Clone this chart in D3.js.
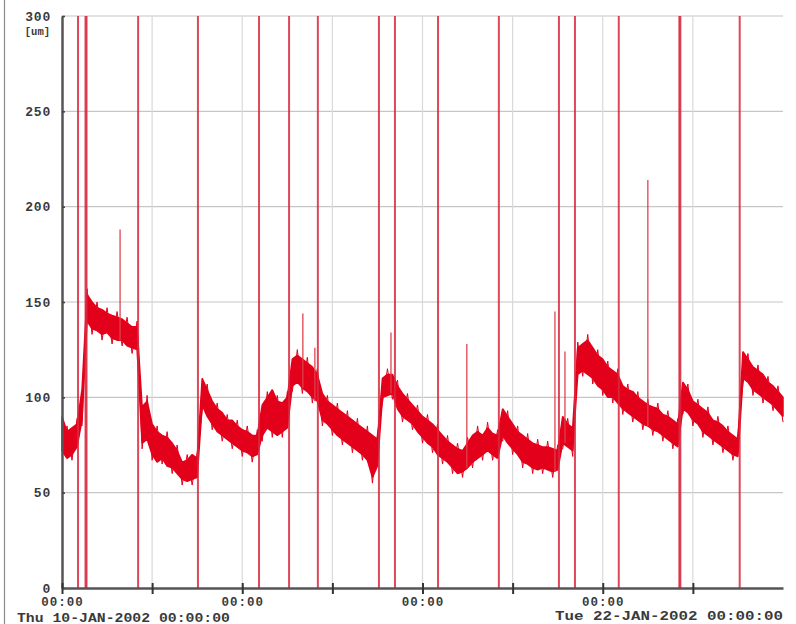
<!DOCTYPE html>
<html lang="en">
  <head>
    <meta charset="UTF-8" />
    <title>trace</title>
    <script src="https://cdn.jsdelivr.net/npm/d3@7/dist/d3.min.js"></script>
    <style>
      body { margin: 0; background: #fff; }
    </style>
  </head>
  <body>
    <div id="wrapper"></div>
    <script>
      // start of record, samples every 2 hours
      const startDate = new Date(2002, 0, 10);
      const stepHours = 2;

      // band of the noisy trace (lower / upper edge), in um
      const traceLow = [
        72, 68, 70, 74, 88, 140, 136, 135, 133, 134, 131, 130, 130, 127, 126, 125,
        76, 78, 70, 66, 68, 64, 63, 60, 57, 56, 57, 58,
        96, 90, 86, 82, 80, 78, 76, 74, 72, 71, 69, 70,
        80, 84, 82, 80, 82, 84,
        106, 108, 105, 103, 100, 98,
        88, 86, 83, 80, 78, 76, 74, 72, 70, 67, 58, 64,
        100, 101, 102,
        94, 90, 88, 86, 82, 79, 76, 74, 70,
        68, 66, 63, 60, 61, 63, 66, 68, 70, 72, 70, 68,
        80, 76, 73, 70, 66, 65, 63, 62, 63, 62, 61, 62,
        76, 74, 72,
        112, 114, 112, 110, 106, 104, 100, 100, 97,
        94, 92, 90, 88, 86, 85, 83, 82, 80, 78, 76, 74,
        94, 92, 88, 86, 82, 80, 78, 76, 74, 72, 70, 69,
        110, 108, 104, 102, 100, 98, 96, 93, 90,
      ];
      const traceHigh = [
        90, 82, 84, 86, 104, 154, 150, 147, 146, 144, 143, 142, 141, 139, 137, 137,
        95, 98, 86, 82, 80, 79, 76, 72, 66, 67, 70, 68,
        110, 104, 98, 94, 92, 88, 88, 85, 83, 82, 80, 80,
        96, 100, 104, 98, 97, 100,
        120, 122, 120, 118, 116, 112,
        102, 98, 96, 94, 92, 90, 88, 86, 84, 82, 80, 78,
        110, 112, 112,
        106, 102, 99, 96, 93, 90, 88, 86, 83,
        80, 77, 75, 73, 72, 76, 80, 82, 80, 84, 81, 80,
        94, 90, 86, 82, 80, 78, 76, 75, 74, 74, 73, 72,
        90, 86, 84,
        126, 128, 130, 126, 122, 120, 116, 114, 112,
        106, 104, 103, 100, 98, 96, 95, 94, 91, 90, 88, 86,
        108, 104, 98, 96, 94, 92, 88, 87, 85, 82, 80, 78,
        124, 120, 116, 114, 112, 108, 106, 103, 100,
      ];

      // spikes that run off the whole scale (hours after start)
      const fullSpikeHours = [
        6.4, 9.4, 9.8, 30.4, 54.3, 78.7, 90.7, 102.2, 126.6, 133, 150.2,
        174.5, 198.5, 204.9, 222.4, 246.6, 247.0, 270.7,
      ];
      // shorter spikes and their tops
      const spikeHours = [23.2, 96.2, 101, 131.4, 161.7, 196.9, 200.9, 234];
      const spikePeaks = [188, 144, 126, 134, 128, 145, 124, 214];

      const yTicks = [0, 50, 100, 150, 200, 250, 300];
      const xTickHours = [0, 36, 72, 108, 144, 180, 216, 252];
      const endLabel = "Tue 22-JAN-2002 00:00:00";
      const startLabel = "Thu 10-JAN-2002 00:00:00";
      const unitLabel = "[um]";

      const width = 796;
      const height = 624;
      const mono = "'Liberation Mono', 'DejaVu Sans Mono', monospace";
      const red = "#e3001b";

      const hourDate = (h) => new Date(startDate.getTime() + h * 3600 * 1000);

      const svg = d3
        .select("#wrapper")
        .append("svg")
        .attr("width", width)
        .attr("height", height);

      svg.append("rect").attr("width", width).attr("height", height).attr("fill", "#fff");

      const xScale = d3
        .scaleTime()
        .domain([startDate, hourDate(288)])
        .range([62, 783]);
      const yScale = d3.scaleLinear().domain([0, 300]).range([588, 16]);

      // page border on the left
      svg.append("line")
        .attr("x1", 4.5).attr("x2", 4.5)
        .attr("y1", 0).attr("y2", height)
        .attr("stroke", "#8a8a8a").attr("stroke-width", 1.2);

      // grid
      svg.append("g")
        .selectAll("line")
        .data(yTicks.filter((d) => d > 0))
        .join("line")
        .attr("x1", xScale.range()[0]).attr("x2", xScale.range()[1])
        .attr("y1", (d) => yScale(d)).attr("y2", (d) => yScale(d))
        .attr("stroke", "#c6c6c6").attr("stroke-width", 1.2);

      svg.append("g")
        .selectAll("line")
        .data(xTickHours.filter((d) => d > 0))
        .join("line")
        .attr("x1", (d) => xScale(hourDate(d))).attr("x2", (d) => xScale(hourDate(d)))
        .attr("y1", yScale(300)).attr("y2", yScale(0))
        .attr("stroke", "#d9d9d9").attr("stroke-width", 1.2);

      // trace
      const trace = traceLow.map((lo, i) => ({
        date: hourDate(i * stepHours),
        lo: lo,
        hi: traceHigh[i],
      }));

      const areaGenerator = d3
        .area()
        .x((d) => xScale(d.date))
        .y0((d) => yScale(d.lo))
        .y1((d) => yScale(d.hi));

      svg.append("path")
        .attr("d", areaGenerator(trace))
        .attr("fill", red)
        .attr("stroke", red)
        .attr("stroke-width", 1.5)
        .attr("stroke-linejoin", "bevel");

      // zigzag to give the band a noisy look
      const zig = [];
      trace.forEach((d, i) => {
        zig.push([xScale(d.date), yScale(i % 2 ? d.hi + 3 : d.lo - 3)]);
      });
      svg.append("path")
        .attr("d", d3.line()(zig))
        .attr("fill", "none")
        .attr("stroke", red)
        .attr("stroke-width", 1);

      // spikes
      svg.append("g")
        .selectAll("line")
        .data(fullSpikeHours)
        .join("line")
        .attr("x1", (d) => xScale(hourDate(d))).attr("x2", (d) => xScale(hourDate(d)))
        .attr("y1", yScale(0)).attr("y2", yScale(300))
        .attr("stroke", "#d8283e").attr("stroke-opacity", 0.85)
        .attr("stroke-width", 2);

      const nearest = (h) => trace[Math.round(h / stepHours)];
      svg.append("g")
        .selectAll("line")
        .data(spikeHours)
        .join("line")
        .attr("x1", (d) => xScale(hourDate(d))).attr("x2", (d) => xScale(hourDate(d)))
        .attr("y1", (d) => yScale(nearest(d).lo))
        .attr("y2", (d, i) => yScale(spikePeaks[i]))
        .attr("stroke", "#e0404a").attr("stroke-opacity", 0.85)
        .attr("stroke-width", 1.5);

      // y axis
      const yAxis = svg.append("g")
        .attr("transform", `translate(${xScale.range()[0]},0)`)
        .call(d3.axisLeft(yScale).tickValues(yTicks).tickSize(6).tickSizeOuter(0).tickPadding(5));
      yAxis.select(".domain").attr("stroke", "#555").attr("stroke-width", 2.5);
      yAxis.selectAll(".tick line").attr("x2", 3).attr("stroke", "#444").attr("stroke-width", 1.6);
      yAxis.selectAll(".tick text")
        .attr("font-family", mono).attr("font-size", 13).attr("font-weight", "bold")
        .attr("letter-spacing", 0.8)
        .attr("fill", "#3a3a3a");

      svg.append("text")
        .attr("x", 50).attr("y", 35)
        .attr("text-anchor", "end")
        .attr("font-family", mono).attr("font-size", 10.5).attr("font-weight", "bold")
        .attr("fill", "#3a3a3a")
        .text(unitLabel);

      // x axis
      const xAxis = svg.append("g")
        .attr("transform", `translate(0,${yScale(0)})`)
        .call(
          d3.axisBottom(xScale)
            .tickValues(xTickHours.map(hourDate))
            .tickSize(6)
            .tickSizeOuter(0)
            .tickPadding(3)
            .tickFormat((d, i) => (xTickHours[i] % 72 === 0 ? "00:00" : ""))
        );
      xAxis.select(".domain").attr("stroke", "#555").attr("stroke-width", 2.5);
      xAxis.selectAll(".tick line").attr("y1", -5).attr("stroke", "#333").attr("stroke-width", 2);
      xAxis.selectAll(".tick text")
        .attr("font-family", mono).attr("font-size", 12.5).attr("font-weight", "bold")
        .attr("letter-spacing", 1)
        .attr("fill", "#3a3a3a");

      svg.append("text")
        .attr("x", 17).attr("y", 621.5)
        .attr("font-family", mono).attr("font-size", 12.5).attr("font-weight", "bold")
        .attr("fill", "#3a3a3a")
        .attr("textLength", 213).attr("lengthAdjust", "spacingAndGlyphs")
        .text(startLabel);

      svg.append("text")
        .attr("x", 555).attr("y", 620)
        .attr("font-family", mono).attr("font-size", 12.5).attr("font-weight", "bold")
        .attr("fill", "#3a3a3a")
        .attr("textLength", 228).attr("lengthAdjust", "spacingAndGlyphs")
        .text(endLabel);
    </script>
  </body>
</html>
